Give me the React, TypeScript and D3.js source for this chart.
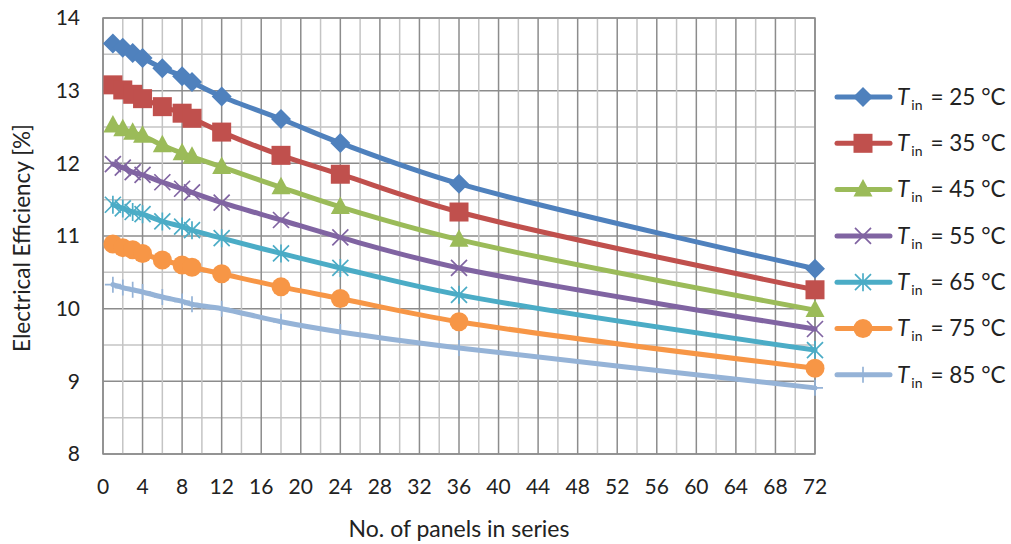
import React from "react";
import * as d3 from "d3";

const panels = [1, 2, 3, 4, 6, 8, 9, 12, 18, 24, 36, 72];
const temps = [25, 35, 45, 55, 65, 75, 85];
const eff25 = [13.65, 13.59, 13.52, 13.45, 13.31, 13.2, 13.12, 12.92, 12.61, 12.28, 11.72, 10.55];
const eff35 = [13.08, 13.01, 12.95, 12.89, 12.78, 12.69, 12.62, 12.43, 12.11, 11.85, 11.33, 10.26];
const eff45 = [12.52, 12.47, 12.42, 12.38, 12.25, 12.14, 12.09, 11.95, 11.67, 11.4, 10.95, 9.98];
const eff55 = [11.99, 11.94, 11.88, 11.84, 11.74, 11.65, 11.6, 11.46, 11.22, 10.98, 10.56, 9.72];
const eff65 = [11.43, 11.38, 11.33, 11.3, 11.2, 11.13, 11.08, 10.97, 10.76, 10.56, 10.19, 9.43];
const eff75 = [10.89, 10.84, 10.81, 10.76, 10.67, 10.6, 10.57, 10.48, 10.3, 10.14, 9.82, 9.18];
const eff85 = [10.33, 10.29, 10.26, 10.23, 10.16, 10.1, 10.06, 10.0, 9.82, 9.68, 9.46, 8.91];
const seriesValues = [eff25, eff35, eff45, eff55, eff65, eff75, eff85];
const colors = ["#4F81BD", "#C0504D", "#9BBB59", "#8064A2", "#4BACC6", "#F79646", "#95B3D7"];
const markers = ["diamond", "square", "triangle", "x", "star", "circle", "plus"];
const xTicks = d3.range(0, 73, 4);
const yTicks = [8, 9, 10, 11, 12, 13, 14];

const W = 1011, H = 544;
const L = 103, R = 815, T = 18, B = 454;
const FONT = "Lato, 'Open Sans', sans-serif";

function Marker({ type, x, y, color }: { type: string; x: number; y: number; color: string }) {
  switch (type) {
    case "diamond":
      return <path d={`M${x},${y - 10}L${x + 10},${y}L${x},${y + 10}L${x - 10},${y}Z`} fill={color} />;
    case "square":
      return <rect x={x - 9.5} y={y - 9.5} width={19} height={19} fill={color} />;
    case "triangle":
      return <path d={`M${x},${y - 10.5}L${x + 9.5},${y + 7}L${x - 9.5},${y + 7}Z`} fill={color} />;
    case "x":
      return (
        <path d={`M${x - 8},${y - 8}L${x + 8},${y + 8}M${x - 8},${y + 8}L${x + 8},${y - 8}`} stroke={color} strokeWidth={1.7} fill="none" />
      );
    case "star":
      return (
        <path
          d={`M${x - 8},${y - 8}L${x + 8},${y + 8}M${x - 8},${y + 8}L${x + 8},${y - 8}M${x},${y - 9}L${x},${y + 9}`}
          stroke={color}
          strokeWidth={1.7}
          fill="none"
        />
      );
    case "circle":
      return <circle cx={x} cy={y} r={9.5} fill={color} />;
    case "plus":
      return <path d={`M${x - 8},${y}L${x + 8},${y}M${x},${y - 8}L${x},${y + 8}`} stroke={color} strokeWidth={1.7} fill="none" />;
  }
  return null;
}

export default function App() {
  const x = d3.scaleLinear().domain([0, 72]).range([L, R]);
  const y = d3.scaleLinear().domain([8, 14]).range([B, T]);
  const line = d3
    .line<number>()
    .x((_, i) => x(panels[i]))
    .y((d) => y(d))
    .curve(d3.curveCatmullRom.alpha(0.5));

  const vGrid = d3.range(0, 73, 2);
  const hGrid = d3.range(8, 14.01, 0.5);
  const legendY0 = 97;
  const legendDy = 46.3;

  return (
    <svg width={W} height={H} style={{ position: "absolute", left: 0, top: 0, background: "#fff" }}>
      <rect x={0} y={0} width={W} height={H} fill="#fff" />
      {hGrid.map((v) => {
        const major = Math.abs(v - Math.round(v)) < 1e-6;
        return (
          <line key={"h" + v} x1={L} x2={R} y1={y(v)} y2={y(v)} stroke={major ? "#8c8c8c" : "#c4c4c4"} strokeWidth={1.5} />
        );
      })}
      {vGrid.map((v) => {
        const major = v % 4 === 0;
        return (
          <line key={"v" + v} x1={x(v)} x2={x(v)} y1={T} y2={B} stroke={major ? "#8c8c8c" : "#c4c4c4"} strokeWidth={1.5} />
        );
      })}
      <rect x={L} y={T} width={R - L} height={B - T} fill="none" stroke="#8c8c8c" strokeWidth={1.5} />

      {yTicks.map((t) => (
        <text key={"yt" + t} x={80} y={y(t)} dy="0.35em" textAnchor="end" fontFamily={FONT} fontSize={21} fill="#222">
          {t}
        </text>
      ))}
      {xTicks.map((t) => (
        <text key={"xt" + t} x={x(t)} y={487} dy="0.35em" textAnchor="middle" fontFamily={FONT} fontSize={21} fill="#222">
          {t}
        </text>
      ))}
      <text
        transform={`translate(22,${(T + B) / 2 + 2}) rotate(-90)`}
        dy="0.35em"
        textAnchor="middle"
        fontFamily={FONT}
        fontSize={22.5}
        fill="#222"
      >
        Electrical Efficiency [%]
      </text>
      <text x={459} y={529} dy="0.35em" textAnchor="middle" fontFamily={FONT} fontSize={23} fill="#222">
        No. of panels in series
      </text>

      {seriesValues.map((vals, si) => (
        <g key={"s" + si}>
          <path d={line(vals) || ""} fill="none" stroke={colors[si]} strokeWidth={5} strokeLinejoin="round" strokeLinecap="round" />
          {vals.map((v, i) => (
            <Marker key={i} type={markers[si]} x={x(panels[i])} y={y(v)} color={colors[si]} />
          ))}
        </g>
      ))}

      {temps.map((t, si) => {
        const ly = legendY0 + si * legendDy;
        return (
          <g key={"lg" + t}>
            <line x1={837} x2={890} y1={ly} y2={ly} stroke={colors[si]} strokeWidth={5} strokeLinecap="round" />
            <Marker type={markers[si]} x={863} y={ly} color={colors[si]} />
            <text x={897} y={ly} dy="0.35em" fontFamily={FONT} fontSize={22.5} fill="#222">
              <tspan fontStyle="italic">T</tspan>
              <tspan fontSize={14} dy="5" dx="2">in</tspan>
              <tspan dy="-5" dx="8">= {t} °C</tspan>
            </text>
          </g>
        );
      })}
    </svg>
  );
}
